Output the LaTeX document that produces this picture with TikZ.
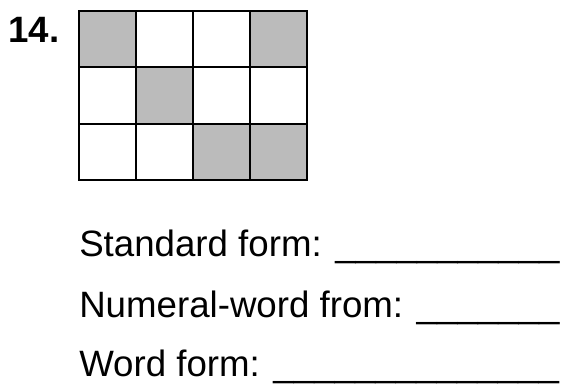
\documentclass[tikz,border=0pt]{standalone}
\usepackage{fontspec}
\setmainfont{Liberation Sans}
\usepackage{xcolor}
\definecolor{cShade}{HTML}{BBBBBB}
\definecolor{cLine}{HTML}{000000}
\usetikzlibrary{positioning}
\tikzset{
  grid-cell/.style={draw=cLine,line width=1.5pt,fill=white,inner sep=0pt,
    outer sep=0pt,minimum width=42.75pt,minimum height=42.25pt},
  grid-shade/.style={fill=cShade},
  item-label/.style={inner sep=0pt,anchor=base west,
    font=\fontsize{27.5pt}{33pt}\selectfont\bfseries},
  form-line/.style={inner sep=0pt,anchor=base west,
    font=\fontsize{27.5pt}{33pt}\selectfont},
}

\begin{document}
\begin{tikzpicture}[x=0.75pt,y=-0.75pt]
  \useasboundingbox (0,0) rectangle (562,384);
  \node[item-label] (num) at (8,43) {14.};
  % 3 x 4 grid, shaded cells listed as row/col
  \foreach \r in {1,2,3}
    \foreach \c in {1,2,3,4}
      \node[grid-cell] (cell-\r-\c) at ({79+57*(\c-0.5)},{11+56.33*(\r-0.5)}) {};
  \foreach \r/\c in {1/1,1/4,2/2,3/3,3/4}
    \node[grid-cell,grid-shade] at (cell-\r-\c) {};
  \node[form-line] (std)  at (79,257) {Standard form: \_\_\_\_\_\_\_\_\_\_\_};
  \node[form-line] (nwd)  at (79,318) {Numeral-word from: \_\_\_\_\_\_\_};
  \node[form-line] (word) at (79,377) {Word form: \_\_\_\_\_\_\_\_\_\_\_\_\_\_};
\end{tikzpicture}
\end{document}
